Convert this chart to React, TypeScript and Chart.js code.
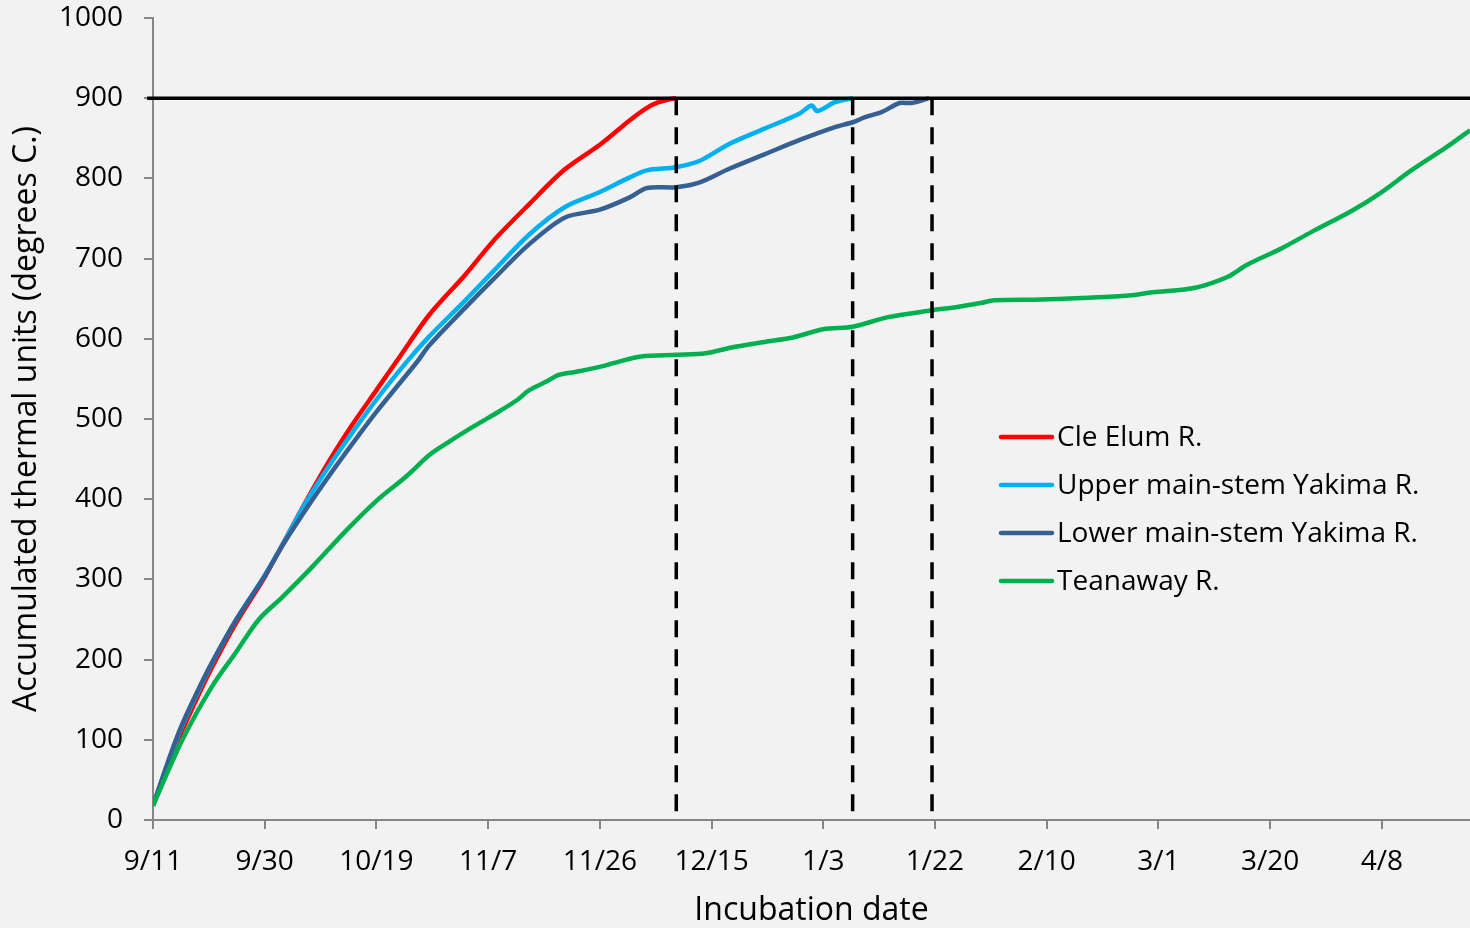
import React, { useEffect, useRef } from 'react';
import { Chart, registerables } from 'chart.js';

Chart.register(...registerables);

const FONT = '"Open Sans", Carlito, Calibri, sans-serif';

// x axis: days since 9/11
const tickDays = [0, 19, 38, 57, 76, 95, 114, 133, 152, 171, 190, 209];
const tickLabels = ['9/11', '9/30', '10/19', '11/7', '11/26', '12/15', '1/3', '1/22', '2/10', '3/1', '3/20', '4/8'];
const dayMax = 224;

const seriesNames = ['Cle Elum R.', 'Upper main-stem Yakima R.', 'Lower main-stem Yakima R.', 'Teanaway R.'];
const seriesColors = ['#ff0000', '#00b0f0', '#376092', '#00b050'];

const cleElumDays = [0, 3, 5, 8, 10, 14, 19, 22, 26, 30, 34, 38, 42, 47, 53, 58, 64, 70, 76, 81, 84, 86, 88, 89];
const cleElumValues = [18, 75, 112, 160, 190, 244, 303, 343, 397, 448, 494, 536, 578, 630, 679, 723, 768, 811, 842, 872, 888, 895, 899, 900];

const upperDays = [0, 3, 5, 8, 10, 14, 19, 22, 26, 30, 34, 38, 43, 47, 53, 58, 64, 70, 76, 81, 84, 89, 93, 98, 104, 110, 112, 113, 116, 119];
const upperValues = [18, 80, 118, 165, 195, 248, 305, 343, 396, 442, 484, 524, 570, 603, 647, 685, 730, 764, 783, 801, 810, 814, 822, 843, 862, 881, 891, 884, 895, 900];

const lowerDays = [0, 3, 5, 8, 10, 14, 19, 22, 27, 31, 35, 38, 45, 47, 53, 58, 64, 70, 76, 81, 84, 89, 93, 98, 104, 110, 116, 119, 121, 124, 127, 129, 132];
const lowerValues = [18, 82, 120, 167, 196, 248, 304, 342, 398, 440, 480, 509, 572, 592, 638, 675, 718, 751, 761, 776, 788, 789, 795, 812, 830, 848, 864, 870, 876, 883, 894, 894, 900];

const teanawayDays = [0, 5, 10, 14, 18, 22, 27, 33, 38, 43, 47, 50, 53, 56, 59, 62, 64, 67, 69, 72, 76, 79, 83, 89, 94, 99, 104, 109, 114, 119, 125, 132, 137, 141, 143, 151, 158, 166, 170, 176, 179, 183, 186, 192, 197, 204, 209, 214, 220, 224];
const teanawayValues = [18, 100, 166, 208, 250, 278, 315, 362, 398, 428, 455, 470, 484, 497, 510, 524, 536, 547, 555, 559, 565, 571, 578, 580, 582, 590, 596, 602, 612, 615, 627, 635, 640, 645, 648, 649, 651, 654, 658, 662, 667, 678, 692, 713, 733, 760, 783, 810, 839, 860];

const thresholdValue = 900;
const reachDays = [89, 119, 132.5];

const toPoints = (days: number[], vals: number[]) => days.map((d, i) => ({ x: d, y: vals[i] }));

const bgPlugin = {
  id: 'bg',
  beforeDraw(chart: any) {
    const { ctx, width, height } = chart;
    ctx.save();
    ctx.fillStyle = '#f2f2f2';
    ctx.fillRect(0, 0, width, height);
    ctx.restore();
  },
};

const legendPlugin = {
  id: 'customLegend',
  afterDraw(chart: any) {
    const ctx = chart.ctx;
    const items = chart.data.datasets.filter((d: any) => d.isSeries);
    items.sort((a: any, b: any) => a.legendIndex - b.legendIndex);
    items.forEach((ds: any, i: number) => {
      const y = 437 + i * 48;
      ctx.save();
      ctx.strokeStyle = ds.borderColor;
      ctx.lineWidth = 4.5;
      ctx.lineCap = 'round';
      ctx.beginPath();
      ctx.moveTo(1001, y);
      ctx.lineTo(1052, y);
      ctx.stroke();
      ctx.fillStyle = '#000';
      ctx.font = `28px ${FONT}`;
      ctx.textBaseline = 'middle';
      ctx.textAlign = 'left';
      ctx.fillText(ds.label, 1057, y + 1);
      ctx.restore();
    });
  },
};

export default function App() {
  const ref = useRef<HTMLCanvasElement | null>(null);

  useEffect(() => {
    document.body.style.margin = '0';
    document.body.style.background = '#f2f2f2';
    const canvas = ref.current;
    if (!canvas) return;

    const seriesDays = [cleElumDays, upperDays, lowerDays, teanawayDays];
    const seriesVals = [cleElumValues, upperValues, lowerValues, teanawayValues];

    const seriesSets = seriesNames.map((name, i) => ({
      label: name,
      isSeries: true,
      legendIndex: i,
      data: toPoints(seriesDays[i], seriesVals[i]),
      borderColor: seriesColors[i],
      backgroundColor: seriesColors[i],
      borderWidth: 4.5,
      pointRadius: 0,
      tension: 0.3,
      fill: false,
      order: 10 - i,
    }));

    const helperSets: any[] = [
      {
        label: '_threshold',
        data: [{ x: -1, y: thresholdValue }, { x: dayMax, y: thresholdValue }],
        borderColor: '#000',
        borderWidth: 3.5,
        pointRadius: 0,
        clip: false,
        order: 0,
      },
      ...reachDays.map((d) => ({
        label: '_reach',
        data: [{ x: d, y: thresholdValue }, { x: d, y: 0 }],
        borderColor: '#000',
        borderWidth: 3.5,
        borderDash: [17, 12],
        pointRadius: 0,
        order: 0,
      })),
    ];

    const chart = new Chart(canvas, {
      type: 'line',
      data: { datasets: [...helperSets, ...seriesSets] as any },
      options: {
        animation: false,
        responsive: false,
        maintainAspectRatio: false,
        layout: { padding: { top: 18, right: 0, left: 0, bottom: 0 } },
        plugins: { legend: { display: false }, tooltip: { enabled: false } },
        scales: {
          x: {
            type: 'linear',
            min: 0,
            max: dayMax,
            afterBuildTicks: (scale: any) => {
              scale.ticks = tickDays.map((v) => ({ value: v }));
            },
            afterFit: (scale: any) => {
              scale.height = 108;
              scale.paddingLeft = 0;
              scale.paddingRight = 0;
            },
            grid: { drawOnChartArea: false, drawTicks: true, tickLength: 9, color: '#868686', lineWidth: 2 },
            border: { display: true, color: '#868686', width: 2 },
            ticks: {
              autoSkip: false,
              maxRotation: 0,
              minRotation: 0,
              padding: 16,
              color: '#000',
              font: { family: FONT, size: 28 },
              callback: (value: any) => {
                const idx = tickDays.indexOf(Number(value));
                return idx >= 0 ? tickLabels[idx] : '';
              },
            },
            title: {
              display: true,
              text: 'Incubation date',
              color: '#000',
              font: { family: FONT, size: 32 },
              padding: { top: 0, bottom: -2 },
            },
          },
          y: {
            type: 'linear',
            min: 0,
            max: 1000,
            afterFit: (scale: any) => {
              scale.width = 153;
              scale.paddingTop = 0;
              scale.paddingBottom = 0;
            },
            grid: { drawOnChartArea: false, drawTicks: true, tickLength: 9, color: '#868686', lineWidth: 2 },
            border: { display: true, color: '#868686', width: 2 },
            ticks: {
              stepSize: 100,
              padding: 21,
              color: '#000',
              font: { family: FONT, size: 28 },
              callback: (value: any) => String(value),
            },
            title: {
              display: true,
              text: 'Accumulated thermal units (degrees C.)',
              color: '#000',
              font: { family: FONT, size: 32 },
              padding: { top: 8, bottom: 0 },
            },
          },
        },
      },
      plugins: [bgPlugin, legendPlugin],
    });

    return () => chart.destroy();
  }, []);

  return (
    <div style={{ position: 'absolute', left: 0, top: 0, width: 1470, height: 928 }}>
      <canvas ref={ref} width={1470} height={928} style={{ width: 1470, height: 928, display: 'block' }} />
    </div>
  );
}
